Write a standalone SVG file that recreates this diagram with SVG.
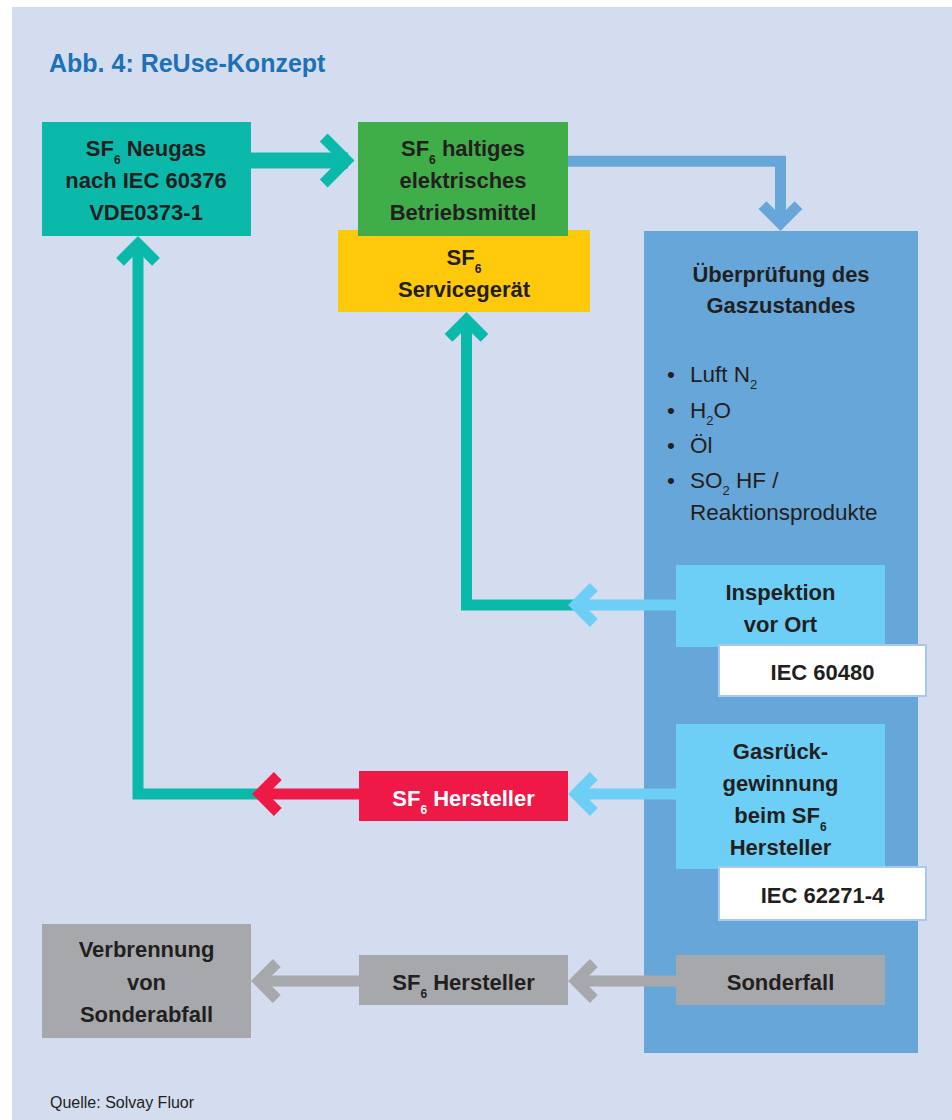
<svg xmlns="http://www.w3.org/2000/svg" width="952" height="1120" viewBox="0 0 952 1120">
<defs>
<style>
.t{font-family:"Liberation Sans",Arial,sans-serif;font-weight:bold;font-size:22px;fill:#231f20;text-anchor:middle}
.r{font-family:"Liberation Sans",Arial,sans-serif;font-size:22.5px;fill:#231f20}
.s{font-size:12px}
.sr{font-size:13px}
.w{fill:#ffffff}
.sh{fill:none;stroke-linejoin:miter;stroke-linecap:butt}
.ch{fill:none;stroke-width:11;stroke-linejoin:miter;stroke-miterlimit:4;stroke-linecap:butt}
.iec{fill:#ffffff;stroke:#a9c8ec;stroke-width:2}
</style>
</defs>
<rect x="0" y="0" width="952" height="1120" fill="#ffffff"/>
<rect x="12" y="7" width="940" height="1113" fill="#d4ddef"/>
<text x="49" y="72" font-family="'Liberation Sans',Arial,sans-serif" font-weight="bold" font-size="25" fill="#1c71b8">Abb. 4: ReUse-Konzept</text>

<g id="uberpruefung">
<rect x="644" y="231" width="274" height="822" fill="#67a6d9"/>
<text class="t"><tspan x="781" y="282">Überprüfung des</tspan><tspan x="781" y="313">Gaszustandes</tspan></text>
<text class="r"><tspan x="667" y="382">•</tspan><tspan x="690" y="382">Luft N</tspan><tspan class="sr" dy="7">2</tspan></text>
<text class="r"><tspan x="667" y="418">•</tspan><tspan x="690" y="418">H</tspan><tspan class="sr" dy="7">2</tspan><tspan dy="-7">O</tspan></text>
<text class="r"><tspan x="667" y="453">•</tspan><tspan x="690" y="453">Öl</tspan></text>
<text class="r"><tspan x="667" y="488">•</tspan><tspan x="690" y="488">SO</tspan><tspan class="sr" dy="7">2</tspan><tspan dy="-7"> HF /</tspan></text>
<text class="r" x="690" y="520">Reaktionsprodukte</text>
</g>

<g id="connectors">
<!-- teal big arrow Neugas -> Betriebsmittel -->
<path class="sh" d="M250,160.5 H348" stroke="#0bb9aa" stroke-width="16"/>
<polyline class="ch" points="323.7,137.5 346.7,160.5 323.7,183.5" stroke="#0bb9aa" stroke-width="16"/>
<!-- blue arrow Betriebsmittel -> Ueberpruefung -->
<path class="sh" d="M568,161.3 H780.5 V224" stroke="#67a6d9" stroke-width="11"/>
<polyline class="ch" points="762.5,205.2 780.5,223.2 798.5,205.2" stroke="#67a6d9"/>
<!-- teal Inspektion -> Servicegeraet -->
<path class="sh" d="M574,605 H466.5 V319" stroke="#0bb9aa" stroke-width="11"/>
<polyline class="ch" points="448.5,337.8 466.5,319.8 484.5,337.8" stroke="#0bb9aa"/>
<path class="sh" d="M576,605 H676" stroke="#6dcff6" stroke-width="11"/>
<polyline class="ch" points="593.8,587 575.8,605 593.8,623" stroke="#6dcff6"/>
<!-- teal SF6 Hersteller -> Neugas -->
<path class="sh" d="M260,794 H138 V243" stroke="#0bb9aa" stroke-width="11"/>
<polyline class="ch" points="120,261.8 138,243.8 156,261.8" stroke="#0bb9aa"/>
<path class="sh" d="M260,794 H359" stroke="#ee1946" stroke-width="11"/>
<polyline class="ch" points="277.8,776 259.8,794 277.8,812" stroke="#ee1946"/>
<!-- light blue Gasrueckgewinnung -> SF6 Hersteller -->
<path class="sh" d="M576,794 H676" stroke="#6dcff6" stroke-width="11"/>
<polyline class="ch" points="593.8,776 575.8,794 593.8,812" stroke="#6dcff6"/>
<!-- gray arrows -->
<path class="sh" d="M576,981 H676" stroke="#a7a8ab" stroke-width="11"/>
<polyline class="ch" points="593.8,963 575.8,981 593.8,999" stroke="#a7a8ab"/>
<path class="sh" d="M259,981 H359" stroke="#a7a8ab" stroke-width="11"/>
<polyline class="ch" points="276.8,963 258.8,981 276.8,999" stroke="#a7a8ab"/>
</g>

<g id="neugas">
<rect x="42" y="122" width="209" height="114" fill="#0bb9aa"/>
<text class="t"><tspan x="146" y="156">SF</tspan><tspan class="s" dy="8">6</tspan><tspan dy="-8"> Neugas</tspan></text>
<text class="t"><tspan x="146" y="188">nach IEC 60376</tspan><tspan x="146" y="220">VDE0373-1</tspan></text>
</g>

<g id="servicegeraet">
<rect x="338" y="230" width="252" height="82" fill="#fec80b"/>
<text class="t"><tspan x="464" y="265">SF</tspan><tspan class="s" dy="8">6</tspan></text>
<text class="t" x="464" y="297">Servicegerät</text>
</g>

<g id="betriebsmittel">
<rect x="358" y="122" width="210" height="114" fill="#3fae49"/>
<text class="t"><tspan x="463" y="156">SF</tspan><tspan class="s" dy="8">6</tspan><tspan dy="-8"> haltiges</tspan></text>
<text class="t"><tspan x="463" y="188">elektrisches</tspan><tspan x="463" y="220">Betriebsmittel</tspan></text>
</g>

<g id="inspektion">
<rect x="676" y="565" width="209" height="82" fill="#6dcff6"/>
<text class="t"><tspan x="780.5" y="600">Inspektion</tspan><tspan x="780.5" y="632">vor Ort</tspan></text>
</g>
<g id="iec60480">
<rect class="iec" x="719" y="645" width="207" height="51"/>
<text class="t" x="822.5" y="680">IEC 60480</text>
</g>

<g id="gasrueckgewinnung">
<rect x="676" y="724" width="209" height="145" fill="#6dcff6"/>
<text class="t"><tspan x="780.5" y="759">Gasrück-</tspan><tspan x="780.5" y="791">gewinnung</tspan></text>
<text class="t"><tspan x="780.5" y="823">beim SF</tspan><tspan class="s" dy="8">6</tspan></text>
<text class="t" x="780.5" y="855">Hersteller</text>
</g>
<g id="iec62271">
<rect class="iec" x="719" y="867" width="207" height="53"/>
<text class="t" x="822.5" y="903">IEC 62271-4</text>
</g>

<g id="hersteller-rot">
<rect x="359" y="771" width="209" height="50" fill="#ee1946"/>
<text class="t w"><tspan x="463.5" y="806">SF</tspan><tspan class="s" dy="8">6</tspan><tspan dy="-8"> Hersteller</tspan></text>
</g>

<g id="sonderfall">
<rect x="676" y="955" width="209" height="50" fill="#a7a8ab"/>
<text class="t" x="780.5" y="990">Sonderfall</text>
</g>

<g id="hersteller-grau">
<rect x="359" y="955" width="209" height="50" fill="#a7a8ab"/>
<text class="t"><tspan x="463.5" y="990">SF</tspan><tspan class="s" dy="8">6</tspan><tspan dy="-8"> Hersteller</tspan></text>
</g>

<g id="verbrennung">
<rect x="42" y="924" width="209" height="114" fill="#a7a8ab"/>
<text class="t"><tspan x="146.5" y="957">Verbrennung</tspan><tspan x="146.5" y="990">von</tspan><tspan x="146.5" y="1022">Sonderabfall</tspan></text>
</g>

<text x="50" y="1108" font-family="'Liberation Sans',Arial,sans-serif" font-size="16" fill="#231f20">Quelle: Solvay Fluor</text>
</svg>
